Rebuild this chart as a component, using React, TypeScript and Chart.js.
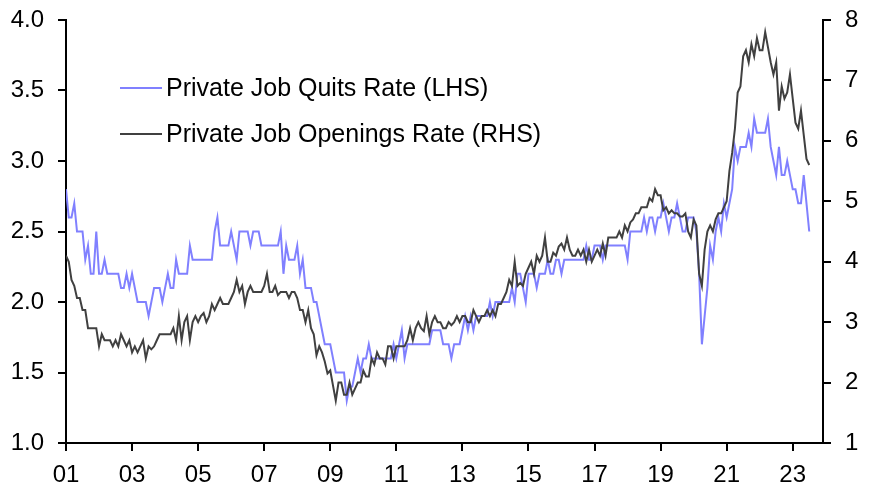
import { useEffect, useRef } from 'react';
import { Chart, registerables } from 'chart.js';

Chart.register(...registerables);

// Monthly data, Jan 2001 .. Jul 2023 (index 0 = Jan 2001)
const xTickLabels = ['01', '03', '05', '07', '09', '11', '13', '15', '17', '19', '21', '23'];
const monthsPerTick = 24;
const axisMaxMonth = 275;

const seriesLabels = ['Private Job Quits Rate (LHS)', 'Private Job Openings Rate (RHS)'];

// Private job quits rate, % (left axis)
const quitsRate = [
  2.8, 2.6, 2.6, 2.7, 2.5, 2.5, 2.5, 2.3, 2.4, 2.2, 2.2, 2.5, // 2001
  2.2, 2.2, 2.3, 2.2, 2.2, 2.2, 2.2, 2.2, 2.1, 2.1, 2.2, 2.1, // 2002
  2.2, 2.1, 2.0, 2.0, 2.0, 2.0, 1.9, 2.0, 2.1, 2.1, 2.1, 2.0, // 2003
  2.1, 2.2, 2.1, 2.1, 2.3, 2.2, 2.2, 2.2, 2.2, 2.4, 2.3, 2.3, // 2004
  2.3, 2.3, 2.3, 2.3, 2.3, 2.3, 2.5, 2.6, 2.4, 2.4, 2.4, 2.4, // 2005
  2.5, 2.4, 2.3, 2.5, 2.5, 2.5, 2.5, 2.4, 2.5, 2.5, 2.5, 2.4, // 2006
  2.4, 2.4, 2.4, 2.4, 2.4, 2.4, 2.5, 2.2, 2.4, 2.3, 2.3, 2.3, // 2007
  2.4, 2.2, 2.3, 2.1, 2.1, 2.1, 2.0, 2.0, 1.9, 1.8, 1.7, 1.7, // 2008
  1.7, 1.6, 1.5, 1.5, 1.5, 1.5, 1.3, 1.4, 1.4, 1.5, 1.6, 1.5, // 2009
  1.6, 1.6, 1.7, 1.6, 1.6, 1.6, 1.6, 1.6, 1.6, 1.6, 1.6, 1.7, // 2010
  1.6, 1.7, 1.8, 1.6, 1.7, 1.7, 1.7, 1.7, 1.7, 1.7, 1.7, 1.7, // 2011
  1.7, 1.8, 1.8, 1.8, 1.8, 1.7, 1.7, 1.7, 1.6, 1.7, 1.7, 1.7, // 2012
  1.8, 1.9, 1.8, 1.9, 1.8, 1.9, 1.9, 1.9, 1.9, 1.9, 2.0, 1.9, // 2013
  2.0, 2.0, 2.0, 2.0, 2.0, 2.0, 2.1, 2.0, 2.2, 2.2, 2.1, 2.0, // 2014
  2.2, 2.2, 2.2, 2.1, 2.2, 2.2, 2.2, 2.3, 2.2, 2.2, 2.3, 2.3, // 2015
  2.2, 2.3, 2.3, 2.3, 2.3, 2.3, 2.3, 2.3, 2.3, 2.4, 2.3, 2.3, // 2016
  2.4, 2.4, 2.4, 2.3, 2.4, 2.4, 2.4, 2.4, 2.4, 2.4, 2.4, 2.4, // 2017
  2.3, 2.5, 2.5, 2.5, 2.5, 2.5, 2.6, 2.5, 2.6, 2.6, 2.5, 2.6, // 2018
  2.6, 2.7, 2.6, 2.5, 2.6, 2.6, 2.7, 2.6, 2.5, 2.5, 2.6, 2.6, // 2019
  2.6, 2.5, 2.2, 1.7, 1.9, 2.1, 2.4, 2.3, 2.5, 2.6, 2.5, 2.7, // 2020
  2.6, 2.7, 2.8, 3.1, 3.0, 3.1, 3.1, 3.1, 3.2, 3.1, 3.3, 3.2, // 2021
  3.2, 3.2, 3.2, 3.3, 3.1, 3.0, 2.9, 3.1, 2.9, 2.9, 3.0, 2.9, // 2022
  2.8, 2.8, 2.7, 2.7, 2.9, 2.7, 2.5,                          // 2023
];

// Private job openings rate, % (right axis)
const openingsRate = [
  4.1, 4.0, 3.7, 3.6, 3.4, 3.4, 3.2, 3.2, 2.9, 2.9, 2.9, 2.9, // 2001
  2.6, 2.8, 2.7, 2.7, 2.7, 2.6, 2.7, 2.6, 2.8, 2.7, 2.6, 2.7, // 2002
  2.5, 2.6, 2.5, 2.6, 2.7, 2.4, 2.6, 2.55, 2.6, 2.7, 2.8, 2.8, // 2003
  2.8, 2.8, 2.8, 2.9, 2.7, 3.1, 2.7, 3.0, 3.1, 2.7, 3.0, 3.1, // 2004
  3.0, 3.1, 3.15, 3.0, 3.1, 3.3, 3.2, 3.3, 3.4, 3.3, 3.3, 3.3, // 2005
  3.4, 3.5, 3.7, 3.5, 3.6, 3.3, 3.5, 3.6, 3.5, 3.5, 3.5, 3.5, // 2006
  3.6, 3.8, 3.5, 3.5, 3.6, 3.45, 3.5, 3.5, 3.5, 3.4, 3.5, 3.5, // 2007
  3.4, 3.2, 3.2, 3.0, 3.2, 2.9, 2.8, 2.45, 2.6, 2.5, 2.35, 2.15, // 2008
  2.2, 1.95, 1.7, 2.0, 2.0, 1.8, 1.8, 2.0, 1.8, 1.9, 2.0, 2.0, // 2009
  2.2, 2.1, 2.1, 2.4, 2.3, 2.5, 2.4, 2.4, 2.3, 2.6, 2.6, 2.4, // 2010
  2.6, 2.6, 2.6, 2.6, 2.7, 2.9, 2.7, 2.9, 3.0, 2.9, 2.85, 3.1, // 2011
  2.8, 3.0, 3.1, 3.0, 3.0, 2.9, 2.9, 3.0, 2.95, 3.0, 3.1, 3.0, // 2012
  3.1, 3.1, 3.0, 3.0, 3.2, 3.1, 3.0, 3.1, 3.1, 3.2, 3.1, 3.2, // 2013
  3.1, 3.3, 3.3, 3.4, 3.5, 3.7, 3.6, 4.0, 3.6, 3.65, 3.6, 3.8, // 2014
  3.9, 4.0, 3.8, 4.1, 4.0, 4.1, 4.4, 4.0, 4.0, 4.15, 4.1, 4.25, // 2015
  4.3, 4.2, 4.4, 4.2, 4.1, 4.1, 4.2, 4.1, 4.2, 4.0, 4.2, 4.0, // 2016
  4.1, 4.2, 4.1, 4.3, 4.1, 4.4, 4.4, 4.4, 4.4, 4.5, 4.4, 4.6, // 2017
  4.5, 4.65, 4.7, 4.8, 4.8, 4.9, 4.9, 4.9, 5.05, 5.0, 5.2, 5.1, // 2018
  5.1, 4.85, 4.9, 4.8, 4.85, 4.8, 4.8, 4.75, 4.75, 4.8, 4.5, 4.4, // 2019
  4.7, 4.6, 3.8, 3.6, 4.2, 4.5, 4.6, 4.5, 4.7, 4.8, 4.8, 4.9, // 2020
  5.0, 5.5, 5.8, 6.2, 6.8, 6.9, 7.4, 7.5, 7.3, 7.6, 7.4, 7.7, // 2021
  7.5, 7.5, 7.8, 7.55, 7.3, 7.1, 7.3, 6.5, 6.9, 6.7, 6.8, 7.1, // 2022
  6.7, 6.3, 6.2, 6.5, 6.1, 5.7, 5.6,                          // 2023
];

const quitsColor = '#8080ff';
const openingsColor = '#404040';
const fontFamily = '"Liberation Sans", Arial, Helvetica, sans-serif';

export default function App() {
  const canvasRef = useRef<HTMLCanvasElement>(null);

  useEffect(() => {
    const canvas = canvasRef.current;
    if (!canvas) return;
    const tickFont = { family: fontFamily, size: 24 };
    const axisGrid = { drawOnChartArea: false, drawTicks: true, tickLength: 8, color: '#000', lineWidth: 2 };
    const axisBorder = { display: true, color: '#000', width: 2 };
    const fixSize = (dim: 'width' | 'height', size: number) => (scale: any) => {
      scale[dim] = size;
      scale.paddingTop = 0;
      scale.paddingBottom = 0;
      scale.paddingLeft = 0;
      scale.paddingRight = 0;
    };

    const chart = new Chart(canvas, {
      type: 'line',
      data: {
        datasets: [
          {
            label: seriesLabels[0],
            data: quitsRate.map((v, i) => ({ x: i, y: v })),
            borderColor: quitsColor,
            backgroundColor: quitsColor,
            borderWidth: 2,
            pointRadius: 0,
            tension: 0,
            yAxisID: 'y',
            order: 2,
          },
          {
            label: seriesLabels[1],
            data: openingsRate.map((v, i) => ({ x: i, y: v })),
            borderColor: openingsColor,
            backgroundColor: openingsColor,
            borderWidth: 2,
            pointRadius: 0,
            tension: 0,
            yAxisID: 'y1',
            order: 1,
          },
        ],
      },
      options: {
        animation: false,
        responsive: false,
        maintainAspectRatio: false,
        layout: { padding: { top: 20, left: 0, right: 0, bottom: 0 } },
        plugins: { legend: { display: false }, tooltip: { enabled: false } },
        scales: {
          x: {
            type: 'linear',
            min: 0,
            max: axisMaxMonth,
            afterBuildTicks: (scale: any) => {
              scale.ticks = xTickLabels.map((_, k) => ({ value: k * monthsPerTick }));
            },
            ticks: {
              autoSkip: false,
              maxRotation: 0,
              padding: 10,
              color: '#000',
              font: tickFont,
              callback: (_v: any, index: number) => xTickLabels[index],
            },
            grid: axisGrid,
            border: axisBorder,
            afterFit: fixSize('height', 47),
          },
          y: {
            position: 'left',
            min: 1,
            max: 4,
            ticks: {
              stepSize: 0.5,
              padding: 14,
              color: '#000',
              font: tickFont,
              callback: (v: any) => Number(v).toFixed(1),
            },
            grid: axisGrid,
            border: axisBorder,
            afterFit: fixSize('width', 66),
          },
          y1: {
            position: 'right',
            min: 1,
            max: 8,
            ticks: {
              stepSize: 1,
              padding: 14,
              color: '#000',
              font: tickFont,
            },
            grid: axisGrid,
            border: axisBorder,
            afterFit: fixSize('width', 61),
          },
        },
      },
    } as any);
    return () => chart.destroy();
  }, []);

  const legendText: React.CSSProperties = {
    position: 'absolute',
    left: 166,
    fontFamily,
    fontSize: 25,
    lineHeight: '30px',
    color: '#000',
    whiteSpace: 'nowrap',
  };
  const legendLine: React.CSSProperties = {
    position: 'absolute',
    left: 120,
    width: 42,
    height: 2,
  };

  return (
    <div style={{ position: 'absolute', left: 0, top: 0, width: 884, height: 490, background: '#fff' }}>
      <canvas ref={canvasRef} width={884} height={490} style={{ display: 'block' }} />
      <div style={{ ...legendLine, top: 87, background: quitsColor }} />
      <div style={{ ...legendText, top: 72 }}>{seriesLabels[0]}</div>
      <div style={{ ...legendLine, top: 133, background: openingsColor }} />
      <div style={{ ...legendText, top: 118 }}>{seriesLabels[1]}</div>
    </div>
  );
}
